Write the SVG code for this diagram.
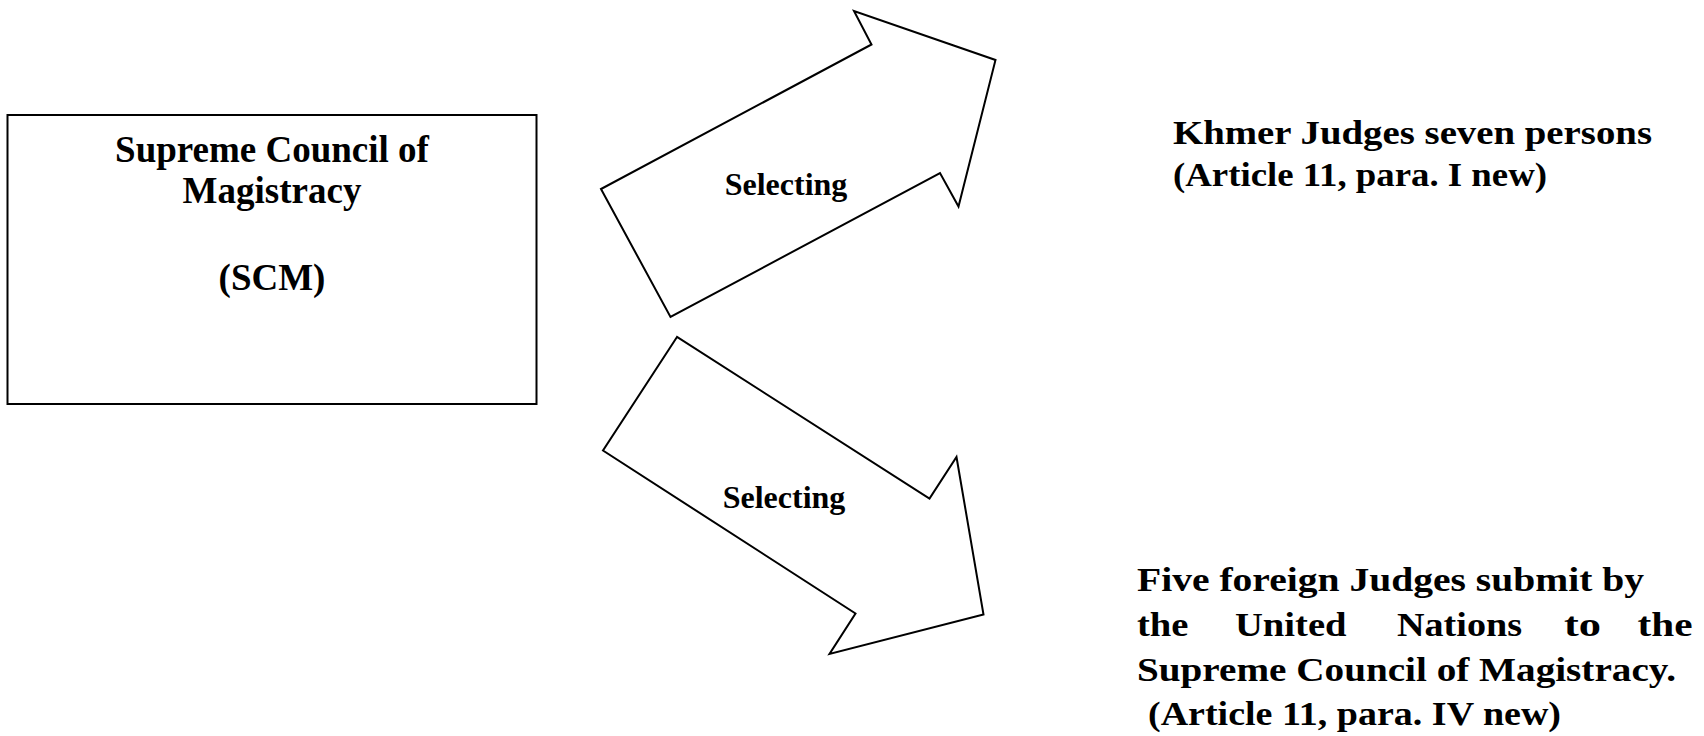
<svg xmlns="http://www.w3.org/2000/svg" width="1704" height="736" viewBox="0 0 1704 736">
<style>
.box{fill:#fff;stroke:#000;stroke-width:2}
.arrow{fill:#fff;stroke:#000;stroke-width:2;stroke-linejoin:miter}
.t{font-family:"Liberation Serif","Times New Roman",serif;font-weight:bold;fill:#000}
.title{font-size:37px;text-anchor:middle}
.lbl{font-size:32px;text-anchor:middle}
.g{font-size:33px}
</style>
<rect width="1704" height="736" fill="#fff"/>
<g id="node-scm">
<rect class="box" x="7.5" y="115" width="529" height="289"/>
<text class="t title" x="272" y="161.5">Supreme Council of</text>
<text class="t title" x="272" y="203">Magistracy</text>
<text class="t title" x="272" y="290">(SCM)</text>
</g>
<g id="connectors">
<g id="arrow-up">
<polygon class="arrow" points="601,189 670.5,317 940,173 958.5,206.5 995.5,60 854,11 871.5,44.5"/>
<text class="t lbl" x="786" y="195">Selecting</text>
</g>
<g id="arrow-down">
<polygon class="arrow" points="677,337 603,450.5 855.5,613.5 829.5,654 983.5,614.5 956.5,457 929.5,498.5"/>
<text class="t lbl" x="784" y="508">Selecting</text>
</g>
</g>
<g id="node-khmer">
<text class="t g" x="1173" y="144" textLength="479" lengthAdjust="spacingAndGlyphs">Khmer Judges seven persons</text>
<text class="t g" x="1173" y="186" textLength="374" lengthAdjust="spacingAndGlyphs">(Article 11, para. I new)</text>
</g>
<g id="node-foreign">
<text class="t g" x="1137" y="591" textLength="507" lengthAdjust="spacingAndGlyphs">Five foreign Judges submit by</text>
<text class="t g" x="1137" y="636" textLength="51.5" lengthAdjust="spacingAndGlyphs">the</text>
<text class="t g" x="1235" y="636" textLength="111.5" lengthAdjust="spacingAndGlyphs">United</text>
<text class="t g" x="1397" y="636" textLength="125" lengthAdjust="spacingAndGlyphs">Nations</text>
<text class="t g" x="1564" y="636" textLength="37" lengthAdjust="spacingAndGlyphs">to</text>
<text class="t g" x="1637.5" y="636" textLength="55" lengthAdjust="spacingAndGlyphs">the</text>
<text class="t g" x="1137" y="681" textLength="539" lengthAdjust="spacingAndGlyphs">Supreme Council of Magistracy.</text>
<text class="t g" x="1148" y="725" textLength="413" lengthAdjust="spacingAndGlyphs">(Article 11, para. IV new)</text>
</g>
</svg>
